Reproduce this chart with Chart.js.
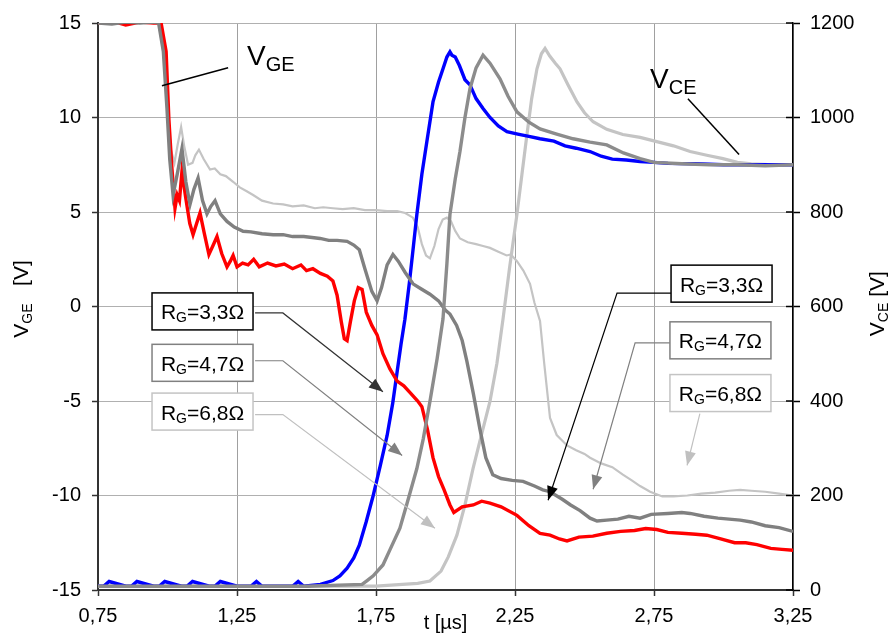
<!DOCTYPE html>
<html>
<head>
<meta charset="utf-8">
<script src="https://cdn.jsdelivr.net/npm/chart.js@4/dist/chart.umd.min.js"></script>
<style>
  html, body { margin: 0; padding: 0; background: #fff; }
  #wrap { width: 893px; height: 638px; }
</style>
</head>
<body>
<div id="wrap"><canvas id="switchChart" width="893" height="638"></canvas></div>
<script>
// time axis ticks (µs) and the two voltage scales
const tTicks = [0.75, 1.25, 1.75, 2.25, 2.75, 3.25];
const vgeRange = [-15, 15];
const vceRange = [0, 1200];
const rgValues = ['3,3', '4,7', '6,8'];

// gate-emitter voltage, RG = 3,3 ohm
const tGe33 = [0.75,0.80,0.85,0.90,0.95,0.977,0.995,1.005,1.016,1.027,1.035,1.043,1.052,1.065,1.080,1.092,1.105,1.117,1.132,1.149,1.163,1.178,1.195,1.214,1.226,1.236,1.25,1.27,1.29,1.31,1.33,1.36,1.39,1.42,1.45,1.48,1.50,1.523,1.55,1.575,1.595,1.61,1.625,1.636,1.646,1.658,1.672,1.686,1.70,1.715,1.735,1.754,1.775,1.80,1.826,1.85,1.875,1.90,1.915,1.935,1.955,1.975,1.995,2.016,2.03,2.06,2.10,2.13,2.16,2.20,2.257,2.30,2.34,2.376,2.41,2.437,2.48,2.53,2.58,2.63,2.68,2.72,2.76,2.80,2.85,2.90,2.94,2.99,3.04,3.08,3.12,3.17,3.21,3.25];
const vGe33 = [15,15.1,14.9,15.05,15,15,13.5,9.9,7.3,5.2,5.9,5.6,7.15,5.8,4.4,3.8,4.4,4.95,3.9,2.75,3.2,3.7,2.8,2.1,2.4,2.7,2.1,2.3,2.2,2.5,2.1,2.3,2.15,2.25,2.0,2.2,1.9,2.0,1.75,1.6,1.35,0.6,-0.8,-1.7,-1.8,-0.8,0.3,1.0,0.9,-0.3,-1.0,-1.5,-2.5,-3.3,-3.95,-4.2,-4.6,-5.0,-5.3,-6.5,-8.0,-9.0,-9.7,-10.5,-10.9,-10.6,-10.5,-10.3,-10.4,-10.6,-11.05,-11.6,-12.0,-12.1,-12.3,-12.4,-12.2,-12.15,-12.0,-11.9,-11.85,-11.75,-11.8,-11.95,-12.0,-12.05,-12.1,-12.3,-12.5,-12.5,-12.6,-12.8,-12.85,-12.9];

// gate-emitter voltage, RG = 4,7 ohm
const tGe47 = [0.75,0.80,0.85,0.90,0.95,0.968,0.985,0.998,1.008,1.020,1.035,1.052,1.066,1.081,1.095,1.11,1.126,1.142,1.156,1.171,1.19,1.214,1.24,1.272,1.30,1.34,1.38,1.416,1.45,1.49,1.52,1.549,1.58,1.61,1.646,1.67,1.69,1.71,1.735,1.754,1.77,1.79,1.811,1.83,1.855,1.883,1.91,1.944,1.975,2.00,2.016,2.04,2.06,2.077,2.10,2.124,2.145,2.17,2.20,2.24,2.279,2.32,2.35,2.376,2.42,2.45,2.484,2.52,2.545,2.58,2.62,2.66,2.70,2.74,2.80,2.85,2.88,2.93,2.98,3.02,3.06,3.10,3.15,3.20,3.25];
const vGe47 = [15,14.95,15.05,15,15.05,15,13.5,10.5,7.8,5.9,7.0,8.35,6.6,5.4,6.2,6.8,5.6,4.9,5.3,5.6,4.9,4.5,4.2,3.98,3.95,3.85,3.8,3.8,3.7,3.7,3.65,3.6,3.5,3.5,3.45,3.25,3.0,2.0,0.8,0.3,1.0,2.2,2.75,2.4,1.8,1.2,0.95,0.65,0.3,-0.2,-0.4,-1.0,-1.8,-2.9,-4.6,-6.5,-8.0,-8.9,-9.1,-9.2,-9.25,-9.5,-9.7,-9.8,-10.2,-10.5,-10.8,-11.2,-11.35,-11.3,-11.25,-11.1,-11.2,-11.0,-10.95,-10.9,-10.95,-11.1,-11.2,-11.25,-11.3,-11.4,-11.6,-11.7,-11.9];

// gate-emitter voltage, RG = 6,8 ohm
const tGe68 = [0.75,0.85,0.95,0.968,0.985,1.0,1.012,1.025,1.037,1.049,1.06,1.074,1.09,1.10,1.113,1.13,1.153,1.17,1.19,1.21,1.236,1.26,1.285,1.308,1.34,1.38,1.416,1.45,1.49,1.53,1.56,1.595,1.63,1.67,1.71,1.75,1.79,1.826,1.855,1.883,1.90,1.915,1.93,1.944,1.96,1.975,1.99,2.005,2.02,2.035,2.052,2.08,2.11,2.135,2.16,2.19,2.22,2.235,2.257,2.28,2.304,2.32,2.34,2.355,2.376,2.40,2.437,2.47,2.50,2.52,2.56,2.60,2.638,2.67,2.70,2.736,2.78,2.82,2.87,2.92,2.97,3.02,3.06,3.10,3.15,3.20,3.25];
const vGe68 = [15,15,15,15,13.5,10.5,8.3,7.6,8.6,9.5,8.5,7.5,7.6,8.0,8.3,7.8,7.25,7.3,7.0,6.9,6.6,6.3,6.1,5.9,5.6,5.45,5.4,5.3,5.35,5.2,5.25,5.2,5.15,5.2,5.1,5.1,5.05,5.05,4.95,4.7,4.2,3.3,2.7,2.55,3.2,4.1,4.6,4.7,4.5,4.0,3.6,3.4,3.3,3.2,3.1,2.9,2.7,2.75,2.4,1.9,1.2,0.2,-0.76,-3.0,-5.9,-6.8,-7.35,-7.6,-7.8,-8.0,-8.3,-8.5,-8.9,-9.2,-9.5,-9.8,-10.05,-10.05,-10.0,-9.9,-9.85,-9.75,-9.7,-9.75,-9.8,-9.9,-10.0];

// collector-emitter voltage, RG = 3,3 ohm
const tCe33 = [0.75,0.77,0.79,0.85,0.87,0.89,0.95,0.97,0.99,1.05,1.07,1.09,1.15,1.17,1.19,1.25,1.30,1.32,1.34,1.40,1.45,1.47,1.49,1.55,1.595,1.62,1.646,1.67,1.69,1.715,1.74,1.765,1.79,1.81,1.826,1.84,1.854,1.87,1.885,1.897,1.915,1.933,1.955,1.975,1.991,2.005,2.016,2.023,2.035,2.05,2.07,2.088,2.11,2.135,2.16,2.19,2.221,2.26,2.30,2.34,2.39,2.43,2.47,2.52,2.56,2.60,2.65,2.70,2.75,2.80,2.90,3.0,3.1,3.25];
const vCe33 = [8,8,18,8,8,18,8,8,18,8,8,18,8,8,18,8,8,18,8,8,8,18,8,12,20,30,46,68,95,145,200,262,327,395,462,520,573,650,730,795,880,949,1033,1075,1103,1128,1139,1132,1128,1110,1080,1069,1040,1019,1000,982,970,965,960,955,950,940,935,928,918,912,910,907,905,903,902,900,900,900];

// collector-emitter voltage, RG = 4,7 ohm
const tCe47 = [0.75,1.0,1.25,1.5,1.70,1.718,1.74,1.775,1.80,1.836,1.86,1.897,1.92,1.944,1.97,1.991,2.005,2.016,2.035,2.052,2.07,2.088,2.11,2.135,2.16,2.196,2.225,2.257,2.30,2.34,2.40,2.459,2.52,2.58,2.64,2.70,2.75,2.85,2.95,3.05,3.15,3.25];
const vCe47 = [8,8,8,8,12,20,30,53,85,131,180,257,320,399,490,574,690,795,870,928,1000,1061,1105,1132,1115,1082,1045,1012,990,976,965,955,948,942,925,913,905,902,900,900,898,900];

// collector-emitter voltage, RG = 6,8 ohm
const tCe68 = [0.75,1.0,1.25,1.5,1.75,1.90,1.944,1.984,2.01,2.041,2.07,2.099,2.13,2.16,2.185,2.207,2.23,2.257,2.275,2.293,2.31,2.329,2.345,2.358,2.375,2.395,2.412,2.44,2.473,2.50,2.531,2.58,2.638,2.70,2.76,2.82,2.88,2.94,2.998,3.05,3.10,3.18,3.25];
const vCe68 = [8,8,8,8,8,14,19,40,70,116,180,257,330,399,480,574,680,795,880,964,1040,1103,1135,1146,1130,1115,1103,1070,1033,1010,991,975,964,958,949,940,928,920,913,905,902,900,900];

const FONT = '"Liberation Sans", Arial, Helvetica, sans-serif';

function pts(t, v) {
  return t.map((x, i) => ({ x: x, y: v[i] }));
}

function trace(data, color, width, axis, order) {
  return {
    data: data,
    yAxisID: axis,
    borderColor: color,
    backgroundColor: color,
    borderWidth: width,
    pointRadius: 0,
    tension: 0,
    order: order
  };
}

// draw a run of text pieces, some of them as subscripts
function drawParts(ctx, x, y, parts) {
  let cx = x;
  parts.forEach(p => {
    ctx.font = p.size + 'px ' + FONT;
    ctx.fillText(p.text, cx, y + (p.sub ? p.sub : 0));
    cx += ctx.measureText(p.text).width;
  });
  return cx - x;
}

function measureParts(ctx, parts) {
  let w = 0;
  parts.forEach(p => {
    ctx.font = p.size + 'px ' + FONT;
    w += ctx.measureText(p.text).width;
  });
  return w;
}

function arrowPath(ctx, pts, color, head) {
  ctx.save();
  ctx.strokeStyle = color;
  ctx.fillStyle = color;
  ctx.lineWidth = 1.2;
  ctx.beginPath();
  pts.forEach((p, i) => i ? ctx.lineTo(p.x, p.y) : ctx.moveTo(p.x, p.y));
  const a = pts[pts.length - 2], b = pts[pts.length - 1];
  const ang = Math.atan2(b.y - a.y, b.x - a.x);
  ctx.stroke();
  if (head) {
    const L = 14, W = 5.5;
    ctx.beginPath();
    ctx.moveTo(b.x, b.y);
    ctx.lineTo(b.x - L * Math.cos(ang) + W * Math.sin(ang), b.y - L * Math.sin(ang) - W * Math.cos(ang));
    ctx.lineTo(b.x - L * Math.cos(ang) - W * Math.sin(ang), b.y - L * Math.sin(ang) + W * Math.cos(ang));
    ctx.closePath();
    ctx.fill();
  }
  ctx.restore();
}

// titles, RG callouts, trace labels and inner ticks of the right axis
const annotations = {
  id: 'annotations',
  afterDraw(chart) {
    const ctx = chart.ctx;
    const xs = chart.scales.x, ys = chart.scales.y, y1 = chart.scales.y1;
    const area = chart.chartArea;
    const P = (t, v) => ({ x: xs.getPixelForValue(t), y: ys.getPixelForValue(v) });

    ctx.save();
    ctx.fillStyle = '#000';
    ctx.textBaseline = 'alphabetic';

    // inner tick marks on the VCE axis
    ctx.strokeStyle = '#000';
    ctx.lineWidth = 1.5;
    y1.ticks.forEach(tk => {
      const py = y1.getPixelForValue(tk.value);
      ctx.beginPath();
      ctx.moveTo(area.right - 7, py);
      ctx.lineTo(area.right, py);
      ctx.stroke();
    });

    // axis titles, written bottom to top
    const leftTitle = [{ text: 'V', size: 21 }, { text: 'GE', size: 14, sub: 4 }, { text: '   [V]', size: 21 }];
    const rightTitle = [{ text: 'V', size: 21 }, { text: 'CE', size: 14, sub: 4 }, { text: ' [V]', size: 21 }];
    [[leftTitle, 28, ys.getPixelForValue(0.4)], [rightTitle, chart.width - 9, ys.getPixelForValue(0.15)]].forEach(([parts, px, py]) => {
      ctx.save();
      ctx.translate(px, py);
      ctx.rotate(-Math.PI / 2);
      drawParts(ctx, -measureParts(ctx, parts) / 2, 0, parts);
      ctx.restore();
    });
    const tTitle = [{ text: 't [µs]', size: 20 }];
    drawParts(ctx, xs.getPixelForValue(2.0) - measureParts(ctx, tTitle) / 2, area.bottom + 39, tTitle);

    // trace group labels
    ctx.strokeStyle = '#000';
    ctx.lineWidth = 1.5;
    [[[0.98, 11.68], [1.218, 12.63], [1.286, 12.79], 'GE'],
     [[2.872, 10.99], [3.056, 8.04], [2.736, 11.57], 'CE']].forEach(([a, b, txt, sub]) => {
      const pa = P(a[0], a[1]), pb = P(b[0], b[1]), pt = P(txt[0], txt[1]);
      ctx.beginPath();
      ctx.moveTo(pa.x, pa.y);
      ctx.lineTo(pb.x, pb.y);
      ctx.stroke();
      drawParts(ctx, pt.x, pt.y, [{ text: 'V', size: 28 }, { text: sub, size: 20, sub: 6 }]);
    });

    // RG callouts with their arrows
    const tones = ['#000', '#808080', '#c4c4c4'];
    const lineTones = ['#333', '#808080', '#c0c0c0'];
    const boxes = [
      { c: [1.126, -0.26], path: [[1.315, -0.34], [1.415, -0.34], [1.775, -4.51]] },
      { c: [1.126, -2.98], path: [[1.315, -2.87], [1.415, -2.87], [1.844, -7.88]] },
      { c: [1.126, -5.56], path: [[1.315, -5.72], [1.415, -5.72], [1.962, -11.73]] },
      { c: [2.993, 1.21], path: [[2.811, 0.71], [2.617, 0.71], [2.369, -10.25]] },
      { c: [2.989, -1.79], path: [[2.808, -1.92], [2.682, -1.92], [2.531, -9.67]] },
      { c: [2.989, -4.58], path: [[2.915, -5.67], [2.869, -8.41]] }
    ];
    boxes.forEach((b, i) => {
      const k = i % 3;
      const col = i === 3 ? '#000' : lineTones[k];
      arrowPath(ctx, b.path.map(p => P(p[0], p[1])), col, true);
      const c = P(b.c[0], b.c[1]);
      const w = 101, h = 37;
      ctx.fillStyle = '#fff';
      ctx.fillRect(c.x - w / 2, c.y - h / 2, w, h);
      ctx.strokeStyle = tones[k];
      ctx.lineWidth = 1.5;
      ctx.strokeRect(c.x - w / 2, c.y - h / 2, w, h);
      ctx.fillStyle = '#000';
      const parts = [{ text: 'R', size: 21 }, { text: 'G', size: 14, sub: 3 }, { text: '=' + rgValues[k] + 'Ω', size: 21 }];
      drawParts(ctx, c.x - measureParts(ctx, parts) / 2, c.y + 8, parts);
    });

    ctx.restore();
  }
};

const tickFont = { family: FONT, size: 20 };

new Chart(document.getElementById('switchChart'), {
  type: 'line',
  data: {
    datasets: [
      trace(pts(tGe68, vGe68), '#c4c4c4', 2.2, 'y', 6),
      trace(pts(tCe68, vCe68), '#c4c4c4', 3.2, 'y1', 5),
      trace(pts(tCe33, vCe33), '#0000ff', 3.4, 'y1', 4),
      trace(pts(tGe33, vGe33), '#ff0000', 3.4, 'y', 3),
      trace(pts(tGe47, vGe47), '#808080', 3.4, 'y', 2),
      trace(pts(tCe47, vCe47), '#8c8c8c', 3.4, 'y1', 1)
    ]
  },
  options: {
    responsive: false,
    animation: false,
    events: [],
    layout: { padding: { top: 21, left: 0, right: 0, bottom: 0 } },
    plugins: { legend: { display: false }, tooltip: { enabled: false } },
    scales: {
      x: {
        type: 'linear',
        min: tTicks[0],
        max: tTicks[tTicks.length - 1],
        afterBuildTicks: s => { s.ticks = tTicks.map(v => ({ value: v })); },
        afterFit: s => { s.height = 48; },
        ticks: {
          color: '#000',
          font: tickFont,
          padding: 8,
          maxRotation: 0,
          callback: v => v.toFixed(2).replace('.', ',')
        },
        grid: { color: '#a0a0a0', lineWidth: 1, tickLength: 6, tickColor: '#333', tickWidth: 1.5 },
        border: { color: '#333', width: 2 }
      },
      y: {
        position: 'left',
        min: vgeRange[0],
        max: vgeRange[1],
        afterFit: s => { s.width = 98; },
        ticks: { stepSize: 5, color: '#000', font: tickFont, padding: 11, callback: v => String(v) },
        grid: { color: '#b0b0b0', lineWidth: 1, tickLength: 6, tickColor: '#333', tickWidth: 1.5 },
        border: { color: '#333', width: 2 }
      },
      y1: {
        position: 'right',
        min: vceRange[0],
        max: vceRange[1],
        afterFit: s => { s.width = 100; },
        ticks: { stepSize: 200, color: '#000', font: tickFont, padding: 10, callback: v => String(v) },
        grid: { drawOnChartArea: false, tickLength: 7, tickColor: '#000', tickWidth: 1.5 },
        border: { color: '#000', width: 1.5 }
      }
    }
  },
  plugins: [annotations]
});
</script>
</body>
</html>
